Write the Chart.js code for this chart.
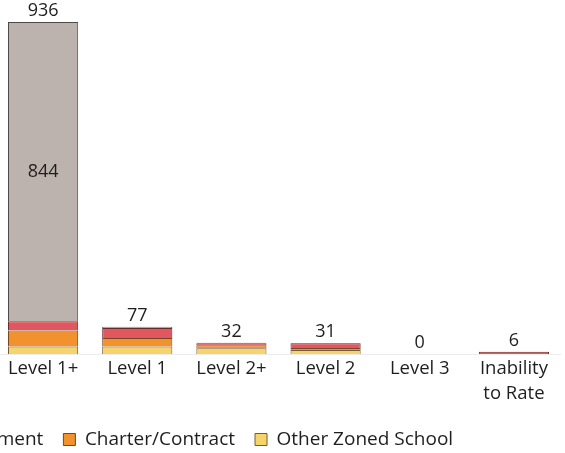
<!DOCTYPE html>
<html>
<head>
    <title>Placement by Level</title>
    <script src="https://cdn.jsdelivr.net/npm/chart.js"></script>
    <style>
        body {
            margin: 0;
            background: #fff;
            overflow: hidden;
        }

        .chart-wrap {
            position: relative;
            width: 565px;
            height: 453px;
            overflow: hidden;
        }

        #levelChart {
            position: absolute;
            left: -365px;
            top: 0;
        }
    </style>
</head>
<body>
    <div class="chart-wrap">
        <canvas id="levelChart" width="926" height="459"></canvas>
    </div>

    <script>
        // Categories and stacked series (bottom of the stack first)
        const levels = ['Level 1+', 'Level 1', 'Level 2+', 'Level 2', 'Level 3', ['Inability', 'to Rate']];
        const otherZoned = [21, 21, 16, 11, 0, 0];
        const charterContract = [45, 24, 9, 6, 0, 0];
        const reassignment = [26, 28, 5, 13, 0, 6];
        const sameSchool = [844, 4, 2, 1, 0, 0];

        const fontFamily = "'Open Sans', 'Noto Sans', sans-serif";

        // Totals above each column, plus the value inside the tall gray segment
        const valueLabels = {
            id: 'valueLabels',
            afterDatasetsDraw(chart) {
                const ctx = chart.ctx;
                const yScale = chart.scales.y;
                const topMeta = chart.getDatasetMeta(chart.data.datasets.length - 1);
                ctx.save();
                ctx.fillStyle = '#1e1e1e';
                ctx.font = '18px ' + fontFamily;
                ctx.textAlign = 'center';

                levels.forEach((lvl, i) => {
                    const total = chart.data.datasets.reduce((sum, ds) => sum + ds.data[i], 0);
                    const x = topMeta.data[i].x;
                    const y = yScale.getPixelForValue(total);
                    ctx.textBaseline = 'bottom';
                    ctx.fillText(String(total), x, y - 2);
                });

                topMeta.data.forEach((bar, i) => {
                    const h = bar.base - bar.y;
                    if (h > 40) {
                        ctx.textBaseline = 'middle';
                        ctx.fillText(String(sameSchool[i]), bar.x, (bar.y + bar.base) / 2);
                    }
                });
                ctx.restore();
            }
        };

        const ctx = document.getElementById('levelChart').getContext('2d');
        new Chart(ctx, {
            type: 'bar',
            data: {
                labels: levels,
                datasets: [
                    {
                        label: 'Other Zoned School',
                        data: otherZoned,
                        backgroundColor: '#f6d46c',
                        borderColor: '#7a5a2e',
                        borderWidth: 1
                    },
                    {
                        label: 'Charter/Contract',
                        data: charterContract,
                        backgroundColor: '#f1922c',
                        borderColor: '#7a4426',
                        borderWidth: 1
                    },
                    {
                        label: 'Reassignment',
                        data: reassignment,
                        backgroundColor: '#e1575f',
                        borderColor: '#6a2a2a',
                        borderWidth: 1
                    },
                    {
                        label: 'Same School',
                        data: sameSchool,
                        backgroundColor: '#bcb3ae',
                        borderColor: '#4e4a48',
                        borderWidth: 1
                    }
                ]
            },
            options: {
                responsive: false,
                animation: false,
                devicePixelRatio: 1,
                layout: {
                    padding: { top: 22, left: 0, right: 0, bottom: 0 }
                },
                datasets: {
                    bar: {
                        categoryPercentage: 1,
                        barPercentage: 0.745
                    }
                },
                scales: {
                    x: {
                        stacked: true,
                        grid: { display: false },
                        border: { display: true, color: '#ececec' },
                        ticks: {
                            color: '#1e1e1e',
                            padding: -6,
                            font: { family: fontFamily, size: 18.5, lineHeight: 1.35 }
                        },
                        afterFit(scale) {
                            scale.height = 56;
                        }
                    },
                    y: {
                        stacked: true,
                        min: 0,
                        max: 936,
                        grid: { display: false },
                        border: { display: false },
                        ticks: { display: false },
                        // empty strip on the left, keeps the legend centred on the whole canvas
                        afterFit(scale) {
                            scale.width = 361;
                        }
                    }
                },
                plugins: {
                    legend: {
                        position: 'bottom',
                        reverse: true,
                        labels: {
                            color: '#1e1e1e',
                            boxWidth: 12,
                            boxHeight: 12,
                            padding: 20,
                            font: { family: fontFamily, size: 19 }
                        }
                    },
                    tooltip: { enabled: false }
                }
            },
            plugins: [valueLabels]
        });
    </script>
</body>
</html>
